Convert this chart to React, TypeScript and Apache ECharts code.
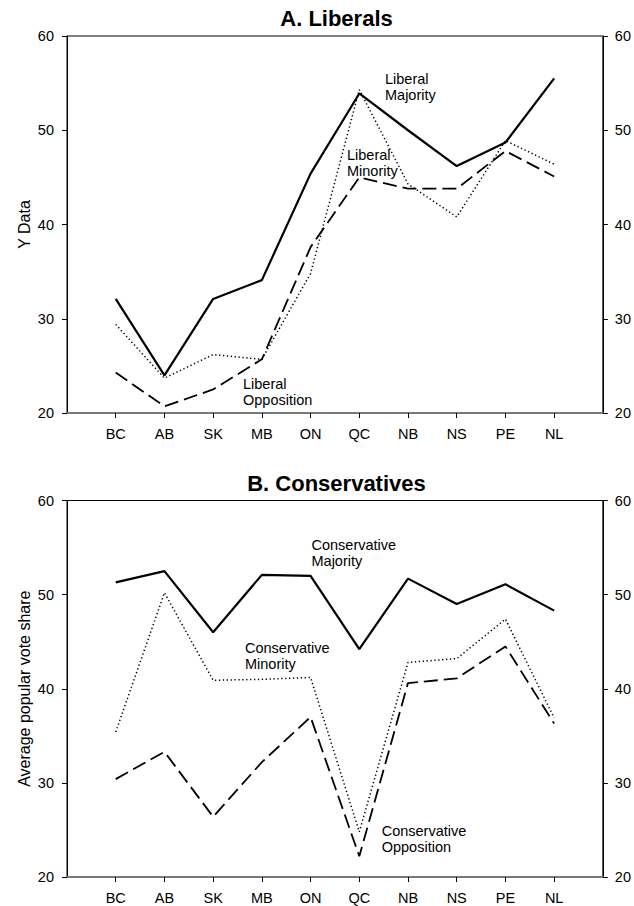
import React, { useEffect, useRef } from "react";
import * as echarts from "echarts";

const provinces = ["BC", "AB", "SK", "MB", "ON", "QC", "NB", "NS", "PE", "NL"];
const yTicks = [20, 30, 40, 50, 60];

const liberalMajority = [32.1, 24.0, 32.1, 34.1, 45.4, 53.9, 50.0, 46.2, 48.7, 55.5];
const liberalMinority = [29.4, 23.7, 26.2, 25.7, 34.8, 54.3, 44.3, 40.8, 48.9, 46.4];
const liberalOpposition = [24.3, 20.7, 22.5, 25.7, 37.6, 45.0, 43.8, 43.8, 47.8, 45.1];

const conservativeMajority = [51.3, 52.5, 46.0, 52.1, 52.0, 44.2, 51.7, 49.0, 51.1, 48.3];
const conservativeMinority = [35.4, 50.2, 40.9, 41.0, 41.2, 24.8, 42.8, 43.2, 47.4, 36.9];
const conservativeOpposition = [30.4, 33.3, 26.4, 32.2, 37.0, 22.2, 40.6, 41.1, 44.5, 36.3];

const FONT = "Liberation Sans, Arial, Helvetica, sans-serif";

const toPairs = (vals: number[]) => vals.map((v, i) => [i + 1, v]);

export default function App() {
  const ref = useRef<HTMLDivElement>(null);

  useEffect(() => {
    if (!ref.current) return;
    const chart = echarts.init(ref.current, null, { renderer: "svg" });

    const positions = provinces.map((_, i) => i + 1);

    const grids = [
      { left: 67, right: 28, top: 36, height: 377, show: true, borderColor: "#000", borderWidth: 1, backgroundColor: "#fff" },
      { left: 67, right: 28, top: 500.5, height: 376.5, show: true, borderColor: "#000", borderWidth: 1, backgroundColor: "#fff" },
    ];

    const makeX = (gi: number) => ({
      type: "value",
      gridIndex: gi,
      min: 0,
      max: provinces.length + 1,
      interval: 1,
      splitLine: { show: false },
      axisLine: { show: true, lineStyle: { color: "#7a7a7a", width: 2 } },
      axisTick: { show: true, customValues: positions, length: 5, lineStyle: { color: "#000", width: 1 } },
      axisLabel: {
        customValues: positions,
        formatter: (v: number) => provinces[Math.round(v) - 1] ?? "",
        margin: 13,
        fontSize: 14.5,
        color: "#000",
        fontFamily: FONT,
      },
    });

    const makeY = (gi: number, pos: "left" | "right") => ({
      type: "value",
      gridIndex: gi,
      position: pos,
      min: yTicks[0],
      max: yTicks[yTicks.length - 1],
      interval: 10,
      splitLine: { show: false },
      axisLine: { show: true, onZero: false, lineStyle: { color: "#000", width: 1 } },
      axisTick: { show: true, length: 5, lineStyle: { color: "#000", width: 1 } },
      axisLabel: {
        margin: pos === "left" ? 13 : 12,
        fontSize: 14.5,
        color: "#000",
        fontFamily: FONT,
      },
    });

    const solid = { color: "#000", width: 2.2, type: "solid" };
    const dotted = { color: "#000", width: 1.5, type: [1.3, 2.6] };
    const dashed = { color: "#000", width: 1.8, type: [14, 6] };

    const mk = (name: string, vals: number[], gi: number, ls: any) => ({
      name,
      type: "line",
      xAxisIndex: gi,
      yAxisIndex: gi * 2,
      data: toPairs(vals),
      symbol: "none",
      lineStyle: ls,
      itemStyle: { color: "#000" },
      silent: true,
    });

    const ann = (text: string, x: number, y: number) => ({
      type: "text",
      x,
      y,
      z: 100,
      style: {
        text,
        fontSize: 14.5,
        lineHeight: 16,
        fontFamily: FONT,
        fill: "#000",
        align: "left",
        verticalAlign: "top",
      },
    });

    const title = (text: string, y: number) => ({
      type: "text",
      x: 336.5,
      y,
      style: {
        text,
        fontSize: 22,
        fontWeight: "bold",
        fontFamily: FONT,
        fill: "#000",
        align: "center",
        verticalAlign: "middle",
      },
    });

    const yName = (text: string, y: number) => ({
      type: "text",
      x: 24,
      y,
      rotation: Math.PI / 2,
      style: {
        text,
        fontSize: 16,
        fontFamily: FONT,
        fill: "#000",
        align: "center",
        verticalAlign: "middle",
      },
    });

    chart.setOption({
      animation: false,
      backgroundColor: "#fff",
      grid: grids,
      xAxis: [makeX(0), makeX(1)],
      yAxis: [makeY(0, "left"), makeY(0, "right"), makeY(1, "left"), makeY(1, "right")],
      series: [
        mk("Liberal Majority", liberalMajority, 0, solid),
        mk("Liberal Minority", liberalMinority, 0, dotted),
        mk("Liberal Opposition", liberalOpposition, 0, dashed),
        mk("Conservative Majority", conservativeMajority, 1, solid),
        mk("Conservative Minority", conservativeMinority, 1, dotted),
        mk("Conservative Opposition", conservativeOpposition, 1, dashed),
      ],
      graphic: [
        title("A. Liberals", 18.4),
        title("B. Conservatives", 483.4),
        yName("Y Data", 224.5),
        yName("Average popular vote share", 688.7),
        ann("Liberal\nMajority", 385, 71),
        ann("Liberal\nMinority", 347, 147),
        ann("Liberal\nOpposition", 243, 375.5),
        ann("Conservative\nMajority", 311.5, 537),
        ann("Conservative\nMinority", 245, 640),
        ann("Conservative\nOpposition", 381.7, 823),
      ],
    });

    return () => chart.dispose();
  }, []);

  return (
    <div
      ref={ref}
      style={{ position: "fixed", left: 0, top: 0, width: 634, height: 906, background: "#fff" }}
    />
  );
}
